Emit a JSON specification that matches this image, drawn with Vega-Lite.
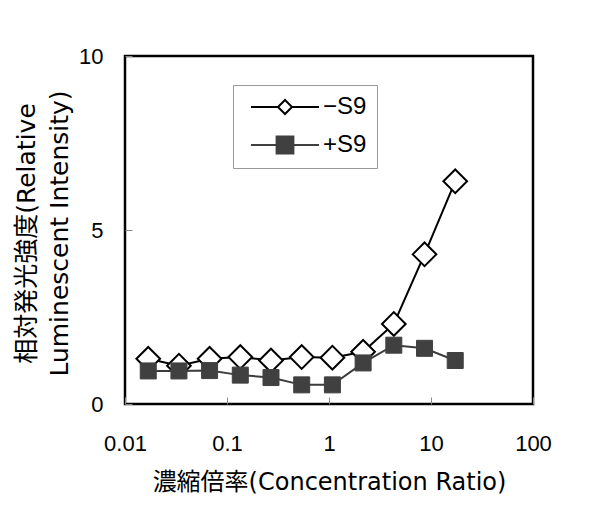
{
  "$schema": "https://vega.github.io/schema/vega-lite/v6.json",
  "width": 408,
  "height": 348,
  "autosize": {"type": "none"},
  "padding": {"left": 125, "top": 56, "right": 82, "bottom": 122},
  "background": "white",
  "config": {
    "view": {"stroke": "black", "strokeWidth": 2.5},
    "axis": {"grid": false, "domain": false}
  },
  "data": {
    "values": [
      {"ratio": 0.0169, "value": 1.3, "series": "−S9"},
      {"ratio": 0.0338, "value": 1.1, "series": "−S9"},
      {"ratio": 0.0675, "value": 1.3, "series": "−S9"},
      {"ratio": 0.135, "value": 1.35, "series": "−S9"},
      {"ratio": 0.27, "value": 1.25, "series": "−S9"},
      {"ratio": 0.54, "value": 1.35, "series": "−S9"},
      {"ratio": 1.08, "value": 1.33, "series": "−S9"},
      {"ratio": 2.16, "value": 1.5, "series": "−S9"},
      {"ratio": 4.32, "value": 2.3, "series": "−S9"},
      {"ratio": 8.64, "value": 4.3, "series": "−S9"},
      {"ratio": 17.28, "value": 6.4, "series": "−S9"},
      {"ratio": 0.0169, "value": 0.95, "series": "+S9"},
      {"ratio": 0.0338, "value": 0.95, "series": "+S9"},
      {"ratio": 0.0675, "value": 0.96, "series": "+S9"},
      {"ratio": 0.135, "value": 0.83, "series": "+S9"},
      {"ratio": 0.27, "value": 0.76, "series": "+S9"},
      {"ratio": 0.54, "value": 0.55, "series": "+S9"},
      {"ratio": 1.08, "value": 0.55, "series": "+S9"},
      {"ratio": 2.16, "value": 1.18, "series": "+S9"},
      {"ratio": 4.32, "value": 1.69, "series": "+S9"},
      {"ratio": 8.64, "value": 1.6, "series": "+S9"},
      {"ratio": 17.28, "value": 1.25, "series": "+S9"}
    ]
  },
  "encoding": {
    "x": {
      "field": "ratio",
      "type": "quantitative",
      "scale": {"type": "log", "domain": [0.01, 100], "nice": false},
      "axis": {
        "values": [0.01, 0.1, 1, 10, 100],
        "format": "~g",
        "tickSize": -7,
        "tickColor": "#888888",
        "tickWidth": 1,
        "labelPadding": 36,
        "labelFont": "Liberation Sans",
        "labelFontSize": 22,
        "labelColor": "black",
        "labelFlush": false,
        "labelOverlap": false,
        "title": "濃縮倍率(Concentration Ratio)",
        "titleFont": "DejaVu Sans, Noto Sans CJK JP",
        "titleFontSize": 24,
        "titleFontWeight": "normal",
        "titleColor": "black",
        "titleBaseline": "middle",
        "titleY": 78
      }
    },
    "y": {
      "field": "value",
      "type": "quantitative",
      "scale": {"domain": [0, 10], "nice": false},
      "axis": {
        "values": [0, 5, 10],
        "tickSize": -7,
        "tickColor": "#888888",
        "tickWidth": 1,
        "labelPadding": 29,
        "labelFont": "Liberation Sans",
        "labelFontSize": 22,
        "labelColor": "black",
        "labelFlush": false,
        "labelOverlap": false,
        "title": ["相対発光強度(Relative", "Luminescent Intensity)"],
        "titleFont": "DejaVu Sans, Noto Sans CJK JP",
        "titleFontSize": 25,
        "titleFontWeight": "normal",
        "titleColor": "black",
        "titleLineHeight": 33,
        "titleBaseline": "middle",
        "titleAngle": -90,
        "titleX": -99,
        "titleY": 177
      }
    }
  },
  "layer": [
    {
      "transform": [{"filter": "datum.series === '−S9'"}],
      "mark": {"type": "line", "stroke": "black", "strokeWidth": 2},
      "encoding": {}
    },
    {
      "transform": [{"filter": "datum.series === '−S9'"}],
      "mark": {"type": "point", "shape": "diamond", "size": 560, "filled": true, "fill": "white", "stroke": "black", "strokeWidth": 2, "opacity": 1}
    },
    {
      "transform": [{"filter": "datum.series === '+S9'"}],
      "mark": {"type": "line", "stroke": "#3c3c3c", "strokeWidth": 2},
      "encoding": {}
    },
    {
      "transform": [{"filter": "datum.series === '+S9'"}],
      "mark": {"type": "point", "shape": "square", "size": 256, "filled": true, "fill": "#404040", "stroke": "#404040", "strokeWidth": 1, "opacity": 1}
    },
    {
      "transform": [{"filter": "false"}],
      "mark": {"type": "point", "filled": true, "strokeWidth": 2, "opacity": 1},
      "encoding": {
        "shape": {
          "field": "series",
          "type": "nominal",
          "scale": {
            "domain": ["−S9", "+S9"],
            "range": [
              "M-4.86,0H-1M-1,0L0,-1L1,0L0,1ZM1,0H4.86",
              "M-4.86,0H-1.2M-1.2,-1.2H1.2V1.2H-1.2ZM1.2,0H4.86"
            ]
          },
          "legend": {
            "title": null,
            "orient": "none",
            "legendX": 108,
            "legendY": 29,
            "padding": 10,
            "strokeColor": "#999999",
            "fillColor": "white",
            "symbolSize": 196,
            "symbolStrokeWidth": 2,
            "symbolOffset": 30,
            "labelOffset": 26,
            "labelFont": "Liberation Sans",
            "labelFontSize": 24,
            "labelColor": "black",
            "rowPadding": 13
          }
        },
        "fill": {
          "field": "series",
          "type": "nominal",
          "scale": {"domain": ["−S9", "+S9"], "range": ["white", "#404040"]}
        },
        "stroke": {
          "field": "series",
          "type": "nominal",
          "scale": {"domain": ["−S9", "+S9"], "range": ["black", "#404040"]}
        }
      }
    }
  ]
}
